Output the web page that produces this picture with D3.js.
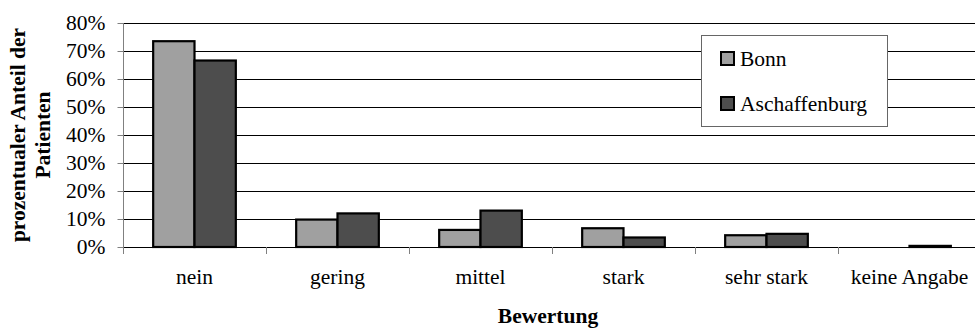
<!DOCTYPE html>
<html>
<head>
<meta charset="utf-8">
<script src="https://cdn.jsdelivr.net/npm/d3@7"></script>
<style>
  html, body { margin: 0; padding: 0; background: #fff; }
  svg text { font-family: "Liberation Serif", "Times New Roman", serif !important; fill: #000; }
</style>
</head>
<body>
<svg id="chart" width="975" height="328"></svg>
<script>
// Kategorien der Bewertung
const categories = ["nein", "gering", "mittel", "stark", "sehr stark", "keine Angabe"];
// Anteile der Patienten in Prozent je Standort
const seriesNames = ["Bonn", "Aschaffenburg"];
const bonn = [73.5, 9.8, 6.1, 6.7, 4.2, 0];
const aschaffenburg = [66.6, 12.0, 13.0, 3.4, 4.7, 0.4];
const yTicks = [0, 10, 20, 30, 40, 50, 60, 70, 80];
const colors = ["#a0a0a0", "#4d4d4d"];

const svg = d3.select("#chart");
const plot = { left: 123, right: 981, top: 23, bottom: 247 };
const fontSize = 21.5;

const x = d3.scaleBand().domain(categories).range([plot.left, plot.right]);
const xInner = d3.scaleBand().domain(seriesNames)
  .range([0, x.bandwidth()]).paddingOuter(0.73);
const y = d3.scaleLinear().domain([0, 80]).range([plot.bottom, plot.top]);

// horizontale Gitterlinien
svg.append("g").selectAll("line").data(yTicks).join("line")
  .attr("x1", plot.left).attr("x2", 975)
  .attr("y1", d => Math.round(y(d)) + 0.5).attr("y2", d => Math.round(y(d)) + 0.5)
  .attr("stroke", "#000").attr("stroke-width", 1);

// y-Achse
const yAxis = d3.axisLeft(y).tickValues(yTicks).tickSize(6).tickPadding(12)
  .tickFormat(d => d + "%");
const gy = svg.append("g").attr("transform", `translate(${plot.left + 0.5},0)`).call(yAxis);
gy.attr("font-size", fontSize);
gy.select(".domain").attr("stroke", "#808080").attr("d", `M-0,${plot.top}V${plot.bottom + 7}`);
gy.selectAll(".tick line").attr("stroke", "#808080");

// x-Achse
const xAxis = d3.axisBottom(x).tickSize(0).tickPadding(22);
const gx = svg.append("g").attr("transform", `translate(0,${plot.bottom})`).call(xAxis);
gx.attr("font-size", fontSize);
gx.select(".domain").remove();
// Trennstriche zwischen den Kategorien
svg.append("g").selectAll("line").data(categories.slice(1)).join("line")
  .attr("x1", d => Math.round(x(d)) + 0.5).attr("x2", d => Math.round(x(d)) + 0.5)
  .attr("y1", plot.bottom).attr("y2", plot.bottom + 7)
  .attr("stroke", "#808080");

// Balken
const rows = categories.map((c, i) => ({ c, vals: [bonn[i], aschaffenburg[i]] }));
const groups = svg.append("g").selectAll("g").data(rows).join("g")
  .attr("transform", d => `translate(${x(d.c)},0)`);
groups.selectAll("rect")
  .data(d => d.vals.map((v, j) => ({ name: seriesNames[j], v, j })).filter(e => e.v > 0))
  .join("rect")
  .attr("x", d => xInner(d.name))
  .attr("width", xInner.bandwidth())
  .attr("y", d => y(d.v))
  .attr("height", d => y(0) - y(d.v))
  .attr("fill", d => colors[d.j])
  .attr("stroke", "#000").attr("stroke-width", 2.2);

// Achsentitel
svg.append("text")
  .attr("transform", `translate(0,${(plot.top + plot.bottom) / 2}) rotate(-90)`)
  .attr("text-anchor", "middle").attr("font-size", fontSize).attr("font-weight", "bold")
  .selectAll("tspan").data(["prozentualer Anteil der", "Patienten"]).join("tspan")
  .attr("x", 0).attr("y", (d, i) => 25 + i * 25).text(d => d);

svg.append("text")
  .attr("x", (plot.left + plot.right) / 2 - 4).attr("y", 323)
  .attr("text-anchor", "middle").attr("font-size", fontSize).attr("font-weight", "bold")
  .text("Bewertung");

// Legende
const lg = svg.append("g");
lg.append("rect").attr("x", 701.5).attr("y", 35.5).attr("width", 186).attr("height", 91)
  .attr("fill", "#fff").attr("stroke", "#666").attr("stroke-width", 1);
const items = lg.selectAll("g").data(seriesNames).join("g")
  .attr("transform", (d, i) => `translate(721,${52 + i * 45})`);
items.append("rect").attr("width", 13).attr("height", 13)
  .attr("fill", (d, i) => colors[i]).attr("stroke", "#000").attr("stroke-width", 2);
items.append("text").attr("x", 19).attr("y", 14).attr("font-size", fontSize).text(d => d);
</script>
</body>
</html>
